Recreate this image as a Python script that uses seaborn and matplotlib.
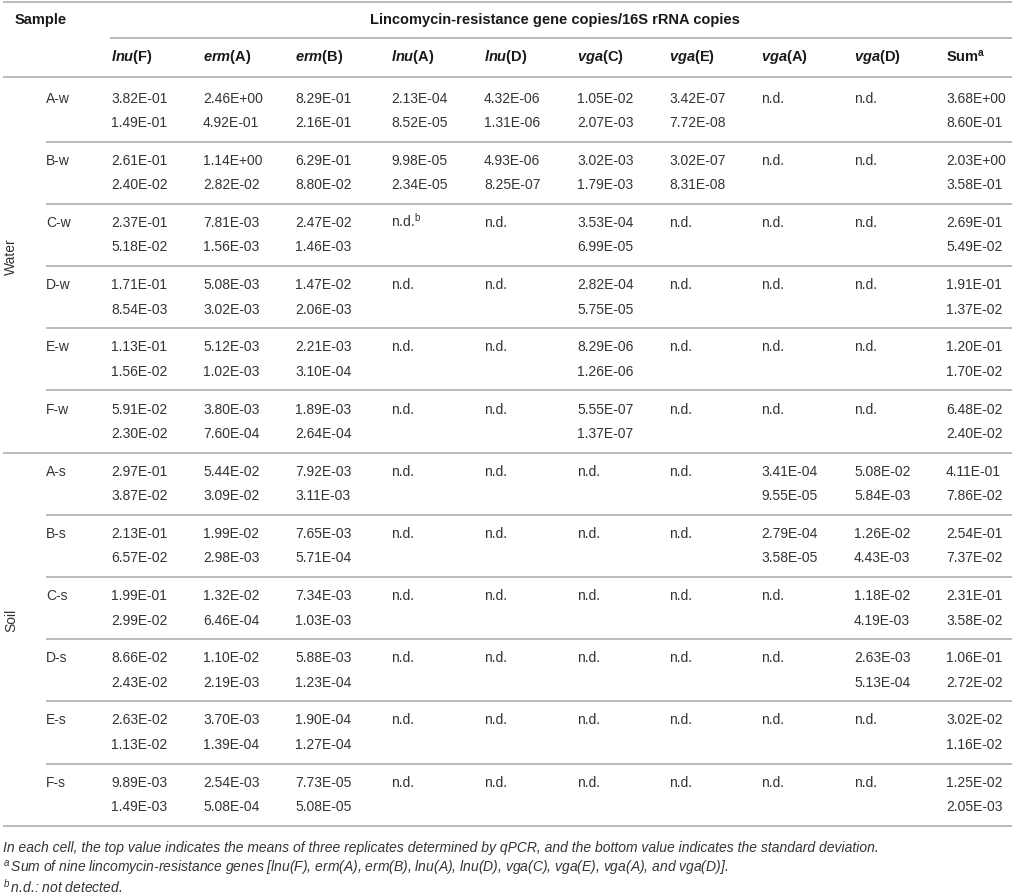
import matplotlib
matplotlib.use("Agg")
import matplotlib.pyplot as plt
import seaborn as sns

# ---------------- data ----------------
groups = ["Water", "Soil"]
samples = ["A-w", "B-w", "C-w", "D-w", "E-w", "F-w",
           "A-s", "B-s", "C-s", "D-s", "E-s", "F-s"]
gene_names = ["lnu", "erm", "erm", "lnu", "lnu", "vga", "vga", "vga", "vga"]
gene_variants = ["F", "A", "B", "A", "D", "C", "E", "A", "D"]
sum_label = "Sum"
header_title = "Lincomycin-resistance gene copies/16S rRNA copies"
ND = None

means = [
    [3.82e-01, 2.46e+00, 8.29e-01, 2.13e-04, 4.32e-06, 1.05e-02, 3.42e-07, ND, ND, 3.68e+00],
    [2.61e-01, 1.14e+00, 6.29e-01, 9.98e-05, 4.93e-06, 3.02e-03, 3.02e-07, ND, ND, 2.03e+00],
    [2.37e-01, 7.81e-03, 2.47e-02, ND, ND, 3.53e-04, ND, ND, ND, 2.69e-01],
    [1.71e-01, 5.08e-03, 1.47e-02, ND, ND, 2.82e-04, ND, ND, ND, 1.91e-01],
    [1.13e-01, 5.12e-03, 2.21e-03, ND, ND, 8.29e-06, ND, ND, ND, 1.20e-01],
    [5.91e-02, 3.80e-03, 1.89e-03, ND, ND, 5.55e-07, ND, ND, ND, 6.48e-02],
    [2.97e-01, 5.44e-02, 7.92e-03, ND, ND, ND, ND, 3.41e-04, 5.08e-02, 4.11e-01],
    [2.13e-01, 1.99e-02, 7.65e-03, ND, ND, ND, ND, 2.79e-04, 1.26e-02, 2.54e-01],
    [1.99e-01, 1.32e-02, 7.34e-03, ND, ND, ND, ND, ND, 1.18e-02, 2.31e-01],
    [8.66e-02, 1.10e-02, 5.88e-03, ND, ND, ND, ND, ND, 2.63e-03, 1.06e-01],
    [2.63e-02, 3.70e-03, 1.90e-04, ND, ND, ND, ND, ND, ND, 3.02e-02],
    [9.89e-03, 2.54e-03, 7.73e-05, ND, ND, ND, ND, ND, ND, 1.25e-02],
]
sds = [
    [1.49e-01, 4.92e-01, 2.16e-01, 8.52e-05, 1.31e-06, 2.07e-03, 7.72e-08, ND, ND, 8.60e-01],
    [2.40e-02, 2.82e-02, 8.80e-02, 2.34e-05, 8.25e-07, 1.79e-03, 8.31e-08, ND, ND, 3.58e-01],
    [5.18e-02, 1.56e-03, 1.46e-03, ND, ND, 6.99e-05, ND, ND, ND, 5.49e-02],
    [8.54e-03, 3.02e-03, 2.06e-03, ND, ND, 5.75e-05, ND, ND, ND, 1.37e-02],
    [1.56e-02, 1.02e-03, 3.10e-04, ND, ND, 1.26e-06, ND, ND, ND, 1.70e-02],
    [2.30e-02, 7.60e-04, 2.64e-04, ND, ND, 1.37e-07, ND, ND, ND, 2.40e-02],
    [3.87e-02, 3.09e-02, 3.11e-03, ND, ND, ND, ND, 9.55e-05, 5.84e-03, 7.86e-02],
    [6.57e-02, 2.98e-03, 5.71e-04, ND, ND, ND, ND, 3.58e-05, 4.43e-03, 7.37e-02],
    [2.99e-02, 6.46e-04, 1.03e-03, ND, ND, ND, ND, ND, 4.19e-03, 3.58e-02],
    [2.43e-02, 2.19e-03, 1.23e-04, ND, ND, ND, ND, ND, 5.13e-04, 2.72e-02],
    [1.13e-02, 1.39e-04, 1.27e-04, ND, ND, ND, ND, ND, ND, 1.16e-02],
    [1.49e-03, 5.08e-04, 5.08e-05, ND, ND, ND, ND, ND, ND, 2.05e-03],
]
nd_marks = {(2, 3): "b"}  # C-w, lnu(A)

footnote1 = ("In each cell, the top value indicates the means of three replicates "
             "determined by qPCR, and the bottom value indicates the standard deviation.")
footnote2 = ("Sum of nine lincomycin-resistance genes [lnu(F), erm(A), erm(B), lnu(A), "
             "lnu(D), vga(C), vga(E), vga(A), and vga(D)].")
footnote3 = "n.d.: not detected."

# ---------------- style ----------------
sns.set_theme(style="white")
FONT = ["Liberation Sans", "DejaVu Sans"]
plt.rcParams["font.family"] = FONT
plt.rcParams["mathtext.fontset"] = "custom"
plt.rcParams["mathtext.rm"] = "Liberation Sans"
plt.rcParams["mathtext.it"] = "Liberation Sans:italic"
plt.rcParams["mathtext.bf"] = "Liberation Sans:bold"
try:
    plt.rcParams["mathtext.bfit"] = "Liberation Sans:italic:bold"
    HAS_BFIT = True
except KeyError:
    HAS_BFIT = False

W, H = 1014, 895
fig = plt.figure(figsize=(W / 100, H / 100), dpi=100)
ax = fig.add_axes([0, 0, 1, 1])
ax.set_xlim(0, W)
ax.set_ylim(H, 0)
ax.axis("off")

LINE_C = "#b4b4b4"
LINE_W = 1.3
VAL_C = "#333333"
HEAD_C = "#1a1a1a"
VAL_SIZE = 10
HEAD_SIZE = 10.5
FN_SIZE = 10


def hline(y, x0, x1):
    ax.plot([x0, x1], [y, y], color=LINE_C, lw=LINE_W, solid_capstyle="butt")


def gene_label(name, variant):
    style = r"\mathbfit" if HAS_BFIT else r"\mathit"
    return "$" + style + "{" + name + r"}\mathbf{(" + variant + r")}$"


col_x = [111, 203, 295, 391, 484, 577, 669, 761, 854, 946]
X_LEFT, X_RIGHT = 3, 1012
X_SAMPLE = 46

# header
hline(3, X_LEFT, X_RIGHT)
ax.text(15, 20, "Sample", fontsize=HEAD_SIZE, fontweight="bold", color=HEAD_C,
        ha="left", va="center")
ax.text(555, 20, header_title, fontsize=HEAD_SIZE,
        fontweight="bold", color=HEAD_C, ha="center", va="center")
hline(39, col_x[0] - 1, X_RIGHT)
for j, (g, v) in enumerate(zip(gene_names, gene_variants)):
    ax.text(col_x[j], 57, gene_label(g, v), fontsize=HEAD_SIZE, color=HEAD_C,
            ha="left", va="center")
ax.text(col_x[9], 57, sum_label + r"$^{\mathbf{a}}$", fontsize=HEAD_SIZE,
        fontweight="bold", color=HEAD_C, ha="left", va="center")
hline(78, X_LEFT, X_RIGHT)

# body
Y0, PITCH, GAP, SEP, BASE = 98, 62.2, 24.5, 44.5, 4.5
for i, s in enumerate(samples):
    yt = Y0 + PITCH * i
    ax.text(X_SAMPLE, yt + BASE, s, fontsize=VAL_SIZE, color=VAL_C,
            ha="left", va="baseline")
    for j in range(len(col_x)):
        m = means[i][j]
        sd = sds[i][j]
        if m is None:
            label = "n.d."
            if (i, j) in nd_marks:
                label += r"$^{\mathrm{" + nd_marks[(i, j)] + "}}$"
        else:
            label = f"{m:.2E}"
        ax.text(col_x[j], yt + BASE, label, fontsize=VAL_SIZE, color=VAL_C,
                ha="left", va="baseline")
        if sd is not None:
            ax.text(col_x[j], yt + GAP + BASE, f"{sd:.2E}", fontsize=VAL_SIZE,
                    color=VAL_C, ha="left", va="baseline")
    ysep = yt + SEP
    if i in (5, len(samples) - 1):
        hline(ysep, X_LEFT, X_RIGHT)
    else:
        hline(ysep, X_SAMPLE, X_RIGHT)

# group labels
ax.text(11, 257, groups[0], rotation=90, fontsize=VAL_SIZE, color=VAL_C,
        ha="center", va="center")
ax.text(11, 620, groups[1], rotation=90, fontsize=VAL_SIZE, color=VAL_C,
        ha="center", va="center")

# footnotes
ax.text(3, 852, footnote1, fontsize=FN_SIZE, style="italic", color=VAL_C,
        ha="left", va="baseline")
ax.text(3, 873, r"$^{\mathit{a}}\,$" + footnote2, fontsize=FN_SIZE, style="italic",
        color=VAL_C, ha="left", va="baseline")
ax.text(3, 893, r"$^{\mathit{b}}\,$" + footnote3, fontsize=FN_SIZE, style="italic",
        color=VAL_C, ha="left", va="baseline")

fig.savefig("out.png", dpi=100)
